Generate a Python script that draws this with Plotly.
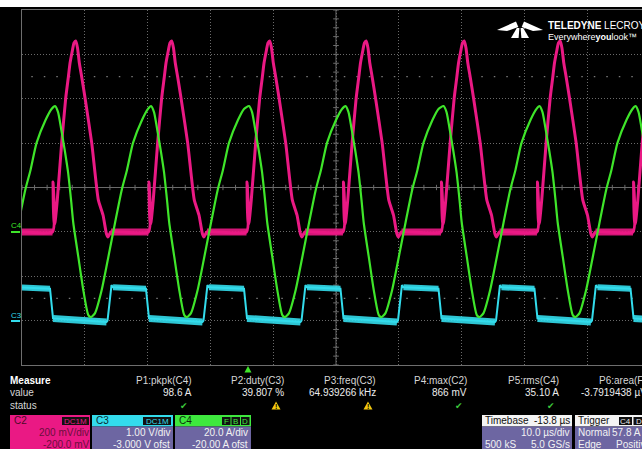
import plotly.graph_objects as go

# ---------------- data ----------------
# switching-cycle start instants (pink turn-on), in µs relative to the trigger
cycle_start_us = [-46.7, -31.34, -16.06, -0.45, 14.91, 30.52, 45.80, 61.10]

# C2 (pink) one cycle: phase after turn-on [µs] / voltage [mV]
c2_phase_us = [0.00, 0.08, 0.21, 0.40, 0.76, 1.46, 2.10, 2.52, 2.79, 3.18, 3.42, 3.70,
               3.98, 4.27, 4.65, 5.18, 6.24, 7.29, 8.04, 8.60, 8.84, 9.32]
c2_mV = [0, 225, 31, 44, 144, 401, 603, 698, 761, 820, 852, 860,
         829, 761, 698, 603, 401, 144, 76, -10, -23, 0]

# C4 (green) one cycle: phase [µs] / current [A]
c4_phase_us = [0.40, 0.88, 1.35, 1.99, 2.47, 2.95, 3.31, 4.11, 4.90, 5.70, 6.13,
               6.77, 7.83, 8.89, 9.95, 11.02, 11.86, 12.82, 14.25, 15.21]
c4_A = [56.7, 54.0, 46.8, 36.0, 27.0, 14.4, 4.0, -11.3, -26.2, -37.5, -38.4,
        -36.6, -26.2, -11.3, 4.0, 18.9, 27.9, 40.1, 50.4, 55.4]

# C3 (cyan) one cycle: phase [µs] / voltage [V]
c3_phase_us = [-0.40, 0.08, 8.60, 8.76, 9.39, 9.63]
c3_V = [0.72, 0.05, -0.03, 0.00, 0.80, 0.75]

# channel settings (scale per division, offset)
C2_SCALE, C2_OFS = 200.0, -200.0   # mV
C3_SCALE, C3_OFS = 1.0, -3.0       # V
C4_SCALE, C4_OFS = 20.0, -20.0     # A
TIME_DIV = 10.0                    # µs/div
DELAY = 13.8                       # µs (trigger at -13.8 µs from centre)

measure_names = ["P1:pkpk(C4)", "P2:duty(C3)", "P3:freq(C3)", "P4:max(C2)", "P5:rms(C4)", "P6:area(F1)"]
measure_values = ["98.6 A", "39.807 %", "64.939266 kHz", "866 mV", "35.10 A", "-3.7919438 µVs"]
measure_status = ["ok", "warn", "warn", "ok", "ok", ""]

# ---------------- geometry ----------------
W, H = 642, 449
PL, PR, PT, PB = 22, 642, 10, 365
PX_PER_US = 6.28
X0 = DELAY - 5 * TIME_DIV
X1 = X0 + (PR - PL) / PX_PER_US

PINK = "#ea1984"
GREEN = "#3fe52a"
CYAN = "#33dcec"
PURPLE = "#6d66a2"


def px(x):
    return (x - PL) / (PR - PL)


def py(y):
    return (PB - y) / (PB - PT)


def to_div(v, scale, ofs):
    return (v + ofs) / scale


# ---------------- build traces ----------------
def build(phases, vals, scale, ofs):
    t, y = [], []
    for s in cycle_start_us:
        for p, v in zip(phases, vals):
            t.append(s + p)
            y.append(to_div(v, scale, ofs))
    return t, y


c2_t, c2_y = build(c2_phase_us, c2_mV, C2_SCALE, C2_OFS)
c3_t, c3_y = build(c3_phase_us, c3_V, C3_SCALE, C3_OFS)
c4_t, c4_y = build(c4_phase_us, c4_A, C4_SCALE, C4_OFS)

# noisy flat parts drawn as wider bands
c2_bt, c2_by = [], []
c3h_t, c3h_y, c3l_t, c3l_y = [], [], [], []
for k, s in enumerate(cycle_start_us):
    nxt = cycle_start_us[k + 1] if k + 1 < len(cycle_start_us) else s + 15.4
    c2_bt += [s + c2_phase_us[-1], nxt + c2_phase_us[0], None]
    c2_by += [to_div(c2_mV[-1], C2_SCALE, C2_OFS), to_div(c2_mV[0], C2_SCALE, C2_OFS), None]
    c3l_t += [s + c3_phase_us[1], s + c3_phase_us[2], None]
    c3l_y += [to_div(c3_V[1], C3_SCALE, C3_OFS), to_div(c3_V[2], C3_SCALE, C3_OFS), None]
    c3h_t += [s + c3_phase_us[5], nxt + c3_phase_us[0], None]
    c3h_y += [to_div(c3_V[5], C3_SCALE, C3_OFS), to_div(c3_V[0], C3_SCALE, C3_OFS), None]

fig = go.Figure()

# centre-line tick marks (graticule decoration)
tk_t, tk_y = [], []
for k in range(0, 51):
    t = X0 + k * TIME_DIV / 5
    tk_t += [t, t, None]
    tk_y += [-0.06, 0.06, None]
for k in range(0, 41):
    yv = -4 + k * 0.2
    tk_t += [DELAY - 0.45, DELAY + 0.45, None]
    tk_y += [yv, yv, None]
fig.add_trace(go.Scatter(x=tk_t, y=tk_y, mode="lines", line=dict(color="#6a6a6a", width=1),
                         hoverinfo="skip", showlegend=False))

fig.add_trace(go.Scatter(x=c3l_t, y=c3l_y, mode="lines", line=dict(color=CYAN, width=7),
                         hoverinfo="skip", showlegend=False, opacity=0.9))
fig.add_trace(go.Scatter(x=c3h_t, y=c3h_y, mode="lines", line=dict(color=CYAN, width=6),
                         hoverinfo="skip", showlegend=False, opacity=0.9))
fig.add_trace(go.Scatter(x=c3_t, y=c3_y, mode="lines", line=dict(color=CYAN, width=2),
                         name="C3", showlegend=False))
fig.add_trace(go.Scatter(x=c2_bt, y=c2_by, mode="lines", line=dict(color=PINK, width=7),
                         hoverinfo="skip", showlegend=False, opacity=0.9))
fig.add_trace(go.Scatter(x=c2_t, y=c2_y, mode="lines",
                         line=dict(color=PINK, width=3, shape="spline", smoothing=0.5),
                         name="C2", showlegend=False))
fig.add_trace(go.Scatter(x=c4_t, y=c4_y, mode="lines",
                         line=dict(color=GREEN, width=2.2, shape="spline", smoothing=0.6),
                         name="C4", showlegend=False))

shapes = []
ann = []


def rect(x0, y0, x1, y1, fill, line=None):
    shapes.append(dict(type="rect", xref="paper", yref="paper", x0=px(x0), x1=px(x1),
                       y0=py(y1), y1=py(y0), fillcolor=fill, layer="above",
                       line=dict(width=0 if line is None else 1, color=line or fill)))


def poly(points, fill):
    d = "M " + " L ".join(f"{px(a):.5f},{py(b):.5f}" for a, b in points) + " Z"
    shapes.append(dict(type="path", xref="paper", yref="paper", path=d, fillcolor=fill,
                       line=dict(width=0), layer="above"))


def txt(x, y, s, color="#d6d6d6", size=10, anchor="left", family="Liberation Sans, Arial"):
    ann.append(dict(x=px(x), y=py(y), xref="paper", yref="paper", text=s, showarrow=False,
                    xanchor=anchor, yanchor="middle", borderpad=0,
                    font=dict(family=family, size=size, color=color)))


# white strip at the top of the screenshot
rect(0, 0, 642, 7, "#ffffff")

# centre vertical graticule line
shapes.append(dict(type="line", xref="x", yref="y", x0=DELAY, x1=DELAY, y0=-4, y1=4,
                   line=dict(color="#6a6a6a", width=1), layer="below"))
# sparse dotted rows
for yv in (2.5, -2.5):
    shapes.append(dict(type="line", xref="paper", yref="y", x0=0.015, x1=1, y0=yv, y1=yv,
                       line=dict(color="#7a7a7a", width=1.2, dash="1.5px,11px"), layer="below"))

# channel ground markers on the left
txt(10, 225, "C4", GREEN, 8)
shapes.append(dict(type="line", xref="paper", yref="paper", x0=px(11), x1=px(20), y0=py(232), y1=py(232),
                   line=dict(color=GREEN, width=2)))
txt(10, 315, "C3", CYAN, 8)
shapes.append(dict(type="line", xref="paper", yref="paper", x0=px(11), x1=px(20), y0=py(321), y1=py(321),
                   line=dict(color=CYAN, width=2)))

# trigger position marker
poly([(244.5, 372.5), (251.5, 372.5), (248, 366)], "#3fe52a")

# logo emblem
poly([(497, 30), (516, 21.5), (518.3, 27), (507, 31)], "#ffffff")
poly([(543, 30), (524, 21.5), (521.7, 27), (533, 31)], "#ffffff")
poly([(516.8, 28), (519.4, 28), (518.6, 38), (511, 38)], "#ffffff")
poly([(523.2, 28), (520.6, 28), (521.4, 38), (529, 38)], "#ffffff")
txt(547, 25.5, "<b>TELEDYNE</b> LECROY", "#ffffff", 10)
txt(547, 37, "Everywhere<b>you</b>look™", "#ffffff", 9)

# measurement table
txt(9, 380.5, "<b>Measure</b>", "#ffffff", 10)
txt(9, 393, "value", "#d6d6d6", 10)
txt(9, 405.5, "status", "#d6d6d6", 10)
col_right = [193, 285, 377, 468, 560, 652]
for xr, nm, vl, st in zip(col_right, measure_names, measure_values, measure_status):
    if xr > 642:
        txt(598, 380.5, nm, "#d6d6d6", 10)
        txt(580, 393, vl, "#ececec", 10)
        continue
    txt(xr, 380.5, nm, "#d6d6d6", 10, "right")
    txt(xr, 393, vl, "#ececec", 10, "right")
    cx = xr - 9
    if st == "ok":
        txt(cx, 405.5, "✔", "#3cc83c", 9, "center", "DejaVu Sans")
    elif st == "warn":
        poly([(cx - 4.5, 409.5), (cx + 4.5, 409.5), (cx, 401.5)], "#f2c80f")
        txt(cx, 406.3, "<b>!</b>", "#000000", 7, "center")

# channel descriptor boxes
rect(10, 415, 90, 449, PINK)
rect(62, 417, 89, 425, "#111111")
txt(13, 420.5, "C2", "#4a0a28", 10)
txt(75.5, 421, "DC1M", PINK, 8, "center")
txt(90, 432.5, "200 mV/div", "#6a0f3c", 10, "right")
txt(90, 444, "-200.0 mV", "#6a0f3c", 10, "right")

rect(92, 415, 173, 426.5, CYAN)
rect(92, 426.5, 173, 449, PURPLE)
rect(143, 417, 171, 425, "#111111")
txt(95, 420.5, "C3", "#0b2a30", 10)
txt(157, 421, "DC1M", CYAN, 8, "center")
txt(171, 432.5, "1.00 V/div", "#f2f2f2", 10, "right")
txt(171, 444, "-3.000 V ofst", "#f2f2f2", 10, "right")

rect(175, 415, 251, 426.5, "#3ee83e")
rect(175, 426.5, 251, 449, PURPLE)
for bx, letter in ((222, "F"), (231.5, "B"), (241, "D")):
    rect(bx, 417, bx + 8.5, 425, "#111111")
    txt(bx + 4.25, 421, letter, "#3ee83e", 8, "center")
txt(178, 420.5, "C4", "#0b300b", 10)
txt(249, 432.5, "20.0 A/div", "#f2f2f2", 10, "right")
txt(249, 444, "-20.00 A ofst", "#f2f2f2", 10, "right")

rect(482, 415, 572, 426.5, "#f4f4f4")
rect(482, 426.5, 572, 449, PURPLE)
txt(484, 420.5, "Timebase", "#111111", 10)
txt(571, 420.5, "-13.8 µs", "#111111", 10, "right")
txt(571, 432.5, "10.0 µs/div", "#f2f2f2", 10, "right")
txt(484, 444, "500 kS", "#f2f2f2", 10)
txt(571, 444, "5.0 GS/s", "#f2f2f2", 10, "right")

rect(575, 415, 650, 426.5, "#f4f4f4")
rect(575, 426.5, 650, 449, PURPLE)
rect(619, 417, 632, 425, "#111111")
rect(633.5, 417, 645, 425, "#111111")
txt(625.5, 421, "C4", "#e8e8e8", 8, "center")
txt(639, 421, "D", "#e8e8e8", 8, "center")
txt(577, 420.5, "Trigger", "#111111", 10)
txt(577, 432.5, "Normal", "#f2f2f2", 10)
txt(611, 432.5, "57.8 A", "#f2f2f2", 10)
txt(577, 444, "Edge", "#f2f2f2", 10)
txt(615, 444, "Positive", "#f2f2f2", 10)

fig.update_layout(
    width=W, height=H, autosize=False,
    margin=dict(l=PL, r=W - PR, t=PT, b=H - PB, pad=0),
    paper_bgcolor="#000000", plot_bgcolor="#000000",
    showlegend=False,
    xaxis=dict(range=[X0, X1], tick0=X0, dtick=TIME_DIV, showticklabels=False, ticks="",
               showgrid=True, gridcolor="#6a6a6a", gridwidth=1, griddash="1px,2px",
               zeroline=False, showline=True, linecolor="#6e6e6e", linewidth=1, mirror=True,
               fixedrange=True),
    yaxis=dict(range=[-4, 4], tick0=-4, dtick=1, showticklabels=False, ticks="",
               showgrid=True, gridcolor="#6a6a6a", gridwidth=1, griddash="1px,2px",
               zeroline=True, zerolinecolor="#6a6a6a", zerolinewidth=1,
               showline=True, linecolor="#6e6e6e", linewidth=1, mirror=False,
               fixedrange=True),
    shapes=shapes,
    annotations=ann,
)

fig.write_html("out.html", config={"displayModeBar": False},
               post_script="document.body.style.margin='0';document.body.style.padding='0';"
                           "document.body.style.overflow='hidden';document.body.style.background='#000';")
